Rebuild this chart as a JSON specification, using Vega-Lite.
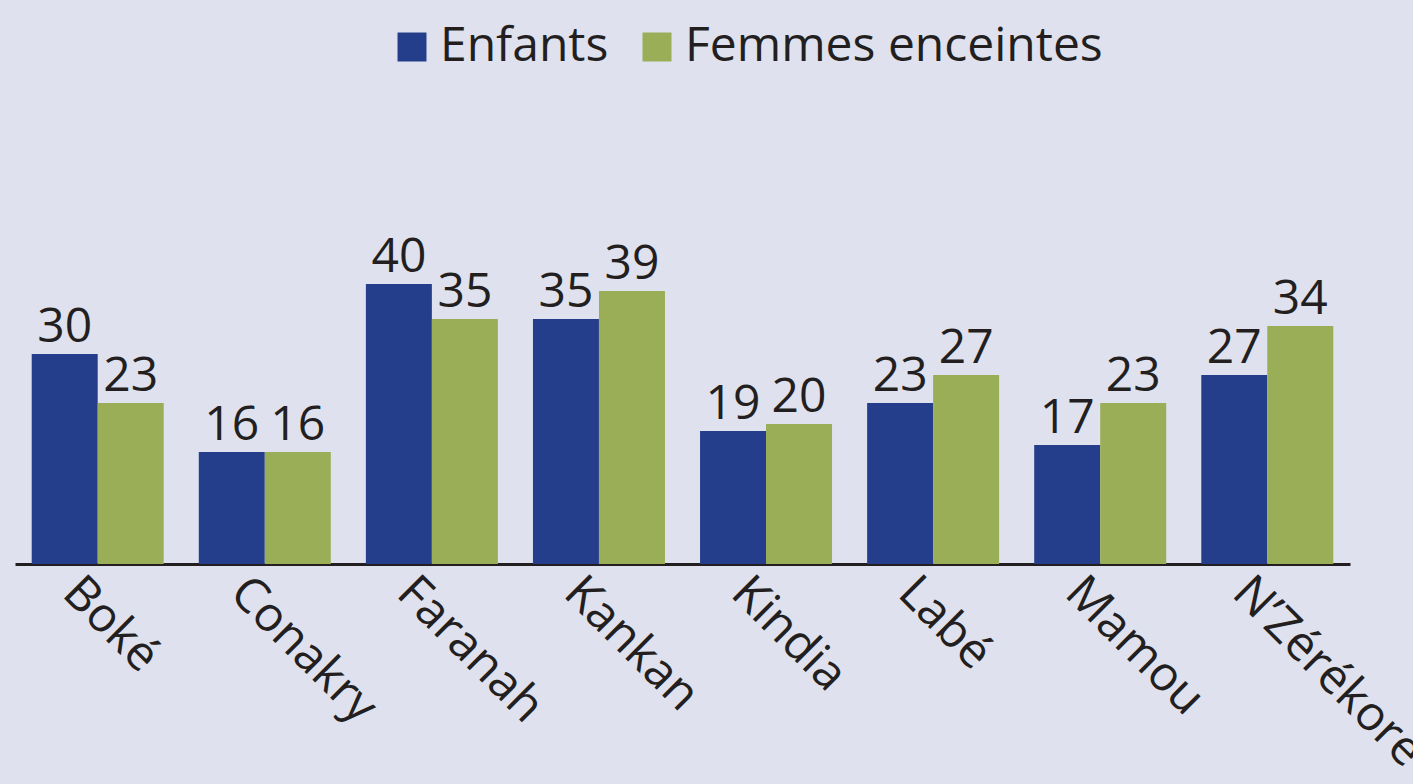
{
  "$schema": "https://vega.github.io/schema/vega-lite/v6.json",
  "width": 1335,
  "height": 462,
  "autosize": {"type": "none"},
  "padding": {"left": 15, "top": 102, "right": 63, "bottom": 220},
  "background": "#dfe2ee",
  "config": {"view": {"stroke": null}, "font": "Open Sans"},
  "data": {
    "values": [
      {"region": "Boké", "groupe": "Enfants", "valeur": 30},
      {"region": "Boké", "groupe": "Femmes enceintes", "valeur": 23},
      {"region": "Conakry", "groupe": "Enfants", "valeur": 16},
      {"region": "Conakry", "groupe": "Femmes enceintes", "valeur": 16},
      {"region": "Faranah", "groupe": "Enfants", "valeur": 40},
      {"region": "Faranah", "groupe": "Femmes enceintes", "valeur": 35},
      {"region": "Kankan", "groupe": "Enfants", "valeur": 35},
      {"region": "Kankan", "groupe": "Femmes enceintes", "valeur": 39},
      {"region": "Kindia", "groupe": "Enfants", "valeur": 19},
      {"region": "Kindia", "groupe": "Femmes enceintes", "valeur": 20},
      {"region": "Labé", "groupe": "Enfants", "valeur": 23},
      {"region": "Labé", "groupe": "Femmes enceintes", "valeur": 27},
      {"region": "Mamou", "groupe": "Enfants", "valeur": 17},
      {"region": "Mamou", "groupe": "Femmes enceintes", "valeur": 23},
      {"region": "N’Zérékoré", "groupe": "Enfants", "valeur": 27},
      {"region": "N’Zérékoré", "groupe": "Femmes enceintes", "valeur": 34}
    ]
  },
  "encoding": {
    "x": {
      "field": "region",
      "type": "nominal",
      "sort": ["Boké", "Conakry", "Faranah", "Kankan", "Kindia", "Labé", "Mamou", "N’Zérékoré"],
      "scale": {"paddingInner": 0.21, "paddingOuter": 0.1},
      "axis": {
        "title": null,
        "domainColor": "#231f20",
        "domainWidth": 3,
        "ticks": false,
        "labelAngle": 45,
        "labelAlign": "left",
        "labelBaseline": "top",
        "labelFontSize": 48,
        "labelFont": "Open Sans",
        "labelColor": "#231f20",
        "labelPadding": 4,
        "labelOffset": -10,
        "labelOverlap": false,
        "labelLimit": 500
      }
    },
    "xOffset": {
      "field": "groupe",
      "type": "nominal",
      "sort": ["Enfants", "Femmes enceintes"],
      "scale": {"paddingInner": 0, "paddingOuter": 0}
    },
    "y": {
      "field": "valeur",
      "type": "quantitative",
      "scale": {"domain": [0, 66]},
      "axis": null
    }
  },
  "layer": [
    {
      "mark": {"type": "bar"},
      "encoding": {
        "color": {
          "field": "groupe",
          "type": "nominal",
          "scale": {"domain": ["Enfants", "Femmes enceintes"], "range": ["#243e8c", "#9aad57"]},
          "legend": {
            "orient": "none",
            "legendX": 373,
            "legendY": -79,
            "direction": "horizontal",
            "title": null,
            "symbolType": "square",
            "symbolSize": 840,
            "symbolOpacity": 1,
            "symbolStrokeWidth": 0,
            "labelFontSize": 48,
            "labelFont": "Open Sans",
            "labelColor": "#231f20",
            "labelOffset": 4,
            "columnPadding": 24,
            "labelLimit": 600
          }
        }
      }
    },
    {
      "mark": {"type": "text", "dy": -12, "fontSize": 48, "baseline": "alphabetic", "align": "center", "color": "#231f20", "font": "Open Sans"},
      "encoding": {"text": {"field": "valeur", "type": "quantitative"}}
    }
  ]
}
